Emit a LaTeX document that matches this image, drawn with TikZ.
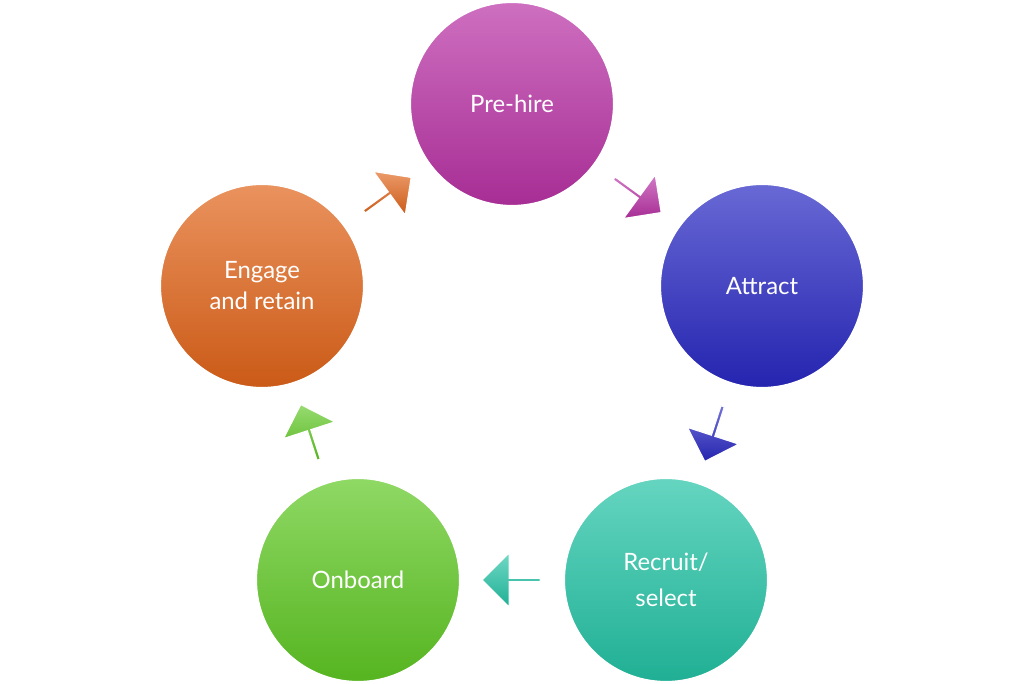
\documentclass[tikz,border=0pt]{standalone}
\usepackage{fontspec}
\setmainfont{Lato}
\usetikzlibrary{shapes.arrows,calc,positioning}

\definecolor{hirecol}{RGB}{185,50,165}
\definecolor{attractcol}{RGB}{40,40,195}
\definecolor{recruitcol}{RGB}{35,195,165}
\definecolor{boardcol}{RGB}{95,200,35}
\definecolor{engagecol}{RGB}{225,100,25}

\tikzset{
  stage/.style = {circle, minimum size = 5.1cm, draw = white, line width = 1.5pt,
    text = white, align = center, font = \fontsize{17}{26}\selectfont,
    top color = #1!70!white, bottom color = #1!90!black},
  step/.style = {single arrow, minimum height = 1.45cm, minimum width = 1.35cm,
    single arrow head extend = 0.2cm, inner sep = 0pt, draw = white, line width = 0.8pt,
    top color = #1!65!white, bottom color = #1!90!black}
}

\begin{document}
\begin{tikzpicture}
\useasboundingbox (0,0) rectangle (25.6,17.1);
\node[stage = hirecol] (hire) at (12.8,14.5) {Pre-hire};
\node[stage = attractcol] (attract) at (19.05,9.95) {Attract};
\node[stage = recruitcol] (recruit) at (16.65,2.6) {Recruit/\\select};
\node[stage = boardcol] (board) at (8.95,2.6) {Onboard};
\node[stage = engagecol] (engage) at (6.55,9.95) {Engage\\[-4pt]and retain};
% arrows between the stages
\node[step = hirecol, rotate = -36] (a1) at ($(hire)!0.5!(attract)$) {};
\node[step = attractcol, rotate = -108] (a2) at ($(attract)!0.5!(recruit)$) {};
\node[step = recruitcol, rotate = 180] (a3) at ($(recruit)!0.5!(board)$) {};
\node[step = boardcol, rotate = 108] (a4) at ($(board)!0.5!(engage)$) {};
\node[step = engagecol, rotate = 36] (a5) at ($(engage)!0.5!(hire)$) {};
\end{tikzpicture}
\end{document}
